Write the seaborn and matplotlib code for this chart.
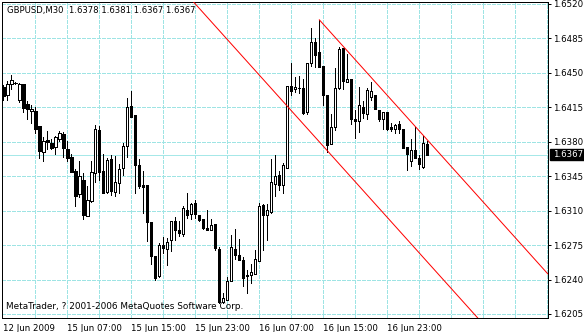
import matplotlib
matplotlib.use("Agg")
import matplotlib.pyplot as plt
import matplotlib.transforms as mtransforms
from matplotlib.patches import Rectangle
import numpy as np
import pandas as pd
import seaborn as sns

# ---------------- data ----------------
symbol_title = "GBPUSD,M30  1.6378 1.6381 1.6367 1.6367"
copyright_text = "MetaTrader, ? 2001-2006 MetaQuotes Software Corp."

opens = [1.6436, 1.6428, 1.6439, 1.6440, 1.6422, 1.6439, 1.6418, 1.6411, 1.6411, 1.6396,
         1.6370, 1.6382, 1.6379, 1.6375, 1.6383, 1.6388, 1.6373, 1.6364, 1.6350, 1.6327,
         1.6341, 1.6305, 1.6320, 1.6348, 1.6392, 1.6350, 1.6329, 1.6362, 1.6329, 1.6338,
         1.6353, 1.6376, 1.6416, 1.6407, 1.6356, 1.6336, 1.6336, 1.6298, 1.6264, 1.6244,
         1.6275, 1.6271, 1.6280, 1.6299, 1.6290, 1.6286, 1.6311, 1.6307, 1.6318, 1.6306,
         1.6302, 1.6292, 1.6290, 1.6296, 1.6271, 1.6217, 1.6219, 1.6239, 1.6271, 1.6265,
         1.6260, 1.6244, 1.6245, 1.6246, 1.6259, 1.6316, 1.6306, 1.6309, 1.6337, 1.6346,
         1.6336, 1.6353, 1.6437, 1.6434, 1.6435, 1.6435, 1.6410, 1.6460, 1.6481, 1.6471,
         1.6457, 1.6427, 1.6378, 1.6395, 1.6435, 1.6475, 1.6441, 1.6444, 1.6403, 1.6401,
         1.6415, 1.6408, 1.6425, 1.6427, 1.6412, 1.6403, 1.6410, 1.6395, 1.6393, 1.6398,
         1.6393, 1.6375, 1.6360, 1.6372, 1.6363, 1.6354, 1.6378]
highs = [1.6438, 1.6442, 1.6448, 1.6441, 1.6440, 1.6439, 1.6421, 1.6417, 1.6415, 1.6396,
         1.6385, 1.6391, 1.6383, 1.6386, 1.6391, 1.6390, 1.6381, 1.6368, 1.6352, 1.6360,
         1.6348, 1.6335, 1.6360, 1.6397, 1.6396, 1.6368, 1.6363, 1.6367, 1.6366, 1.6357,
         1.6379, 1.6424, 1.6432, 1.6407, 1.6362, 1.6350, 1.6336, 1.6298, 1.6264, 1.6277,
         1.6283, 1.6282, 1.6299, 1.6304, 1.6299, 1.6315, 1.6328, 1.6318, 1.6321, 1.6306,
         1.6302, 1.6311, 1.6302, 1.6296, 1.6273, 1.6226, 1.6243, 1.6285, 1.6291, 1.6281,
         1.6263, 1.6250, 1.6256, 1.6270, 1.6318, 1.6317, 1.6317, 1.6362, 1.6367, 1.6350,
         1.6358, 1.6437, 1.6460, 1.6446, 1.6447, 1.6444, 1.6460, 1.6496, 1.6485, 1.6504,
         1.6457, 1.6427, 1.6408, 1.6455, 1.6476, 1.6475, 1.6469, 1.6444, 1.6412, 1.6436,
         1.6421, 1.6435, 1.6441, 1.6427, 1.6412, 1.6410, 1.6410, 1.6399, 1.6398, 1.6401,
         1.6393, 1.6375, 1.6383, 1.6395, 1.6367, 1.6386, 1.6381]
lows = [1.6422, 1.6422, 1.6434, 1.6439, 1.6420, 1.6410, 1.6403, 1.6399, 1.6389, 1.6363,
        1.6360, 1.6373, 1.6373, 1.6368, 1.6381, 1.6365, 1.6360, 1.6349, 1.6315, 1.6324,
        1.6302, 1.6305, 1.6319, 1.6339, 1.6341, 1.6328, 1.6328, 1.6326, 1.6325, 1.6328,
        1.6346, 1.6365, 1.6405, 1.6328, 1.6333, 1.6308, 1.6279, 1.6256, 1.6240, 1.6243,
        1.6267, 1.6255, 1.6269, 1.6280, 1.6284, 1.6284, 1.6303, 1.6302, 1.6303, 1.6299,
        1.6291, 1.6290, 1.6290, 1.6270, 1.6216, 1.6216, 1.6219, 1.6238, 1.6261, 1.6260,
        1.6233, 1.6226, 1.6236, 1.6246, 1.6259, 1.6270, 1.6280, 1.6308, 1.6325, 1.6331,
        1.6328, 1.6353, 1.6428, 1.6431, 1.6430, 1.6408, 1.6408, 1.6457, 1.6456, 1.6456,
        1.6417, 1.6370, 1.6378, 1.6392, 1.6434, 1.6434, 1.6441, 1.6398, 1.6384, 1.6390,
        1.6404, 1.6403, 1.6422, 1.6413, 1.6401, 1.6393, 1.6392, 1.6391, 1.6389, 1.6389,
        1.6374, 1.6351, 1.6355, 1.6363, 1.6352, 1.6353, 1.6367]
closes = [1.6426, 1.6439, 1.6443, 1.6440, 1.6439, 1.6414, 1.6413, 1.6413, 1.6393, 1.6371,
          1.6381, 1.6380, 1.6374, 1.6385, 1.6389, 1.6374, 1.6363, 1.6349, 1.6325, 1.6345,
          1.6306, 1.6321, 1.6349, 1.6393, 1.6349, 1.6328, 1.6361, 1.6330, 1.6339, 1.6352,
          1.6376, 1.6415, 1.6405, 1.6356, 1.6335, 1.6334, 1.6298, 1.6264, 1.6242, 1.6275,
          1.6272, 1.6278, 1.6299, 1.6290, 1.6287, 1.6313, 1.6306, 1.6317, 1.6307, 1.6300,
          1.6292, 1.6290, 1.6295, 1.6272, 1.6217, 1.6221, 1.6238, 1.6273, 1.6265, 1.6260,
          1.6242, 1.6245, 1.6248, 1.6261, 1.6315, 1.6306, 1.6311, 1.6339, 1.6345, 1.6336,
          1.6356, 1.6437, 1.6432, 1.6436, 1.6435, 1.6409, 1.6460, 1.6481, 1.6468, 1.6456,
          1.6427, 1.6377, 1.6395, 1.6435, 1.6474, 1.6442, 1.6444, 1.6403, 1.6401, 1.6417,
          1.6409, 1.6433, 1.6432, 1.6413, 1.6403, 1.6410, 1.6393, 1.6393, 1.6397, 1.6393,
          1.6374, 1.6368, 1.6372, 1.6363, 1.6357, 1.6379, 1.6367]

time_label_bars = [0, 16, 32, 48, 64, 80, 96]
time_labels = ["12 Jun 2009", "15 Jun 07:00", "15 Jun 15:00", "15 Jun 23:00",
               "16 Jun 07:00", "16 Jun 15:00", "16 Jun 23:00"]
price_ticks = [1.6205, 1.6240, 1.6275, 1.6310, 1.6345, 1.6380, 1.6415, 1.6450, 1.6485, 1.6520]
current_price = 1.6367

# channel: upper trend line anchored on two highs, lower line parallel
upper_anchor_bars = [79, 106]
upper_anchor_prices = [1.6504, 1.6382]
channel_width = 0.0124

# ---------------- style ----------------
sns.set_style("white")
plt.rcParams["font.family"] = ["DejaVu Sans"]

W, H = 584, 332
fig = plt.figure(figsize=(W / 100, H / 100), dpi=100)
fig.patch.set_facecolor("white")
ax = fig.add_axes([2 / W, 1 - 318 / H, 546 / W, 316 / H])
ax.set_facecolor("white")

n = len(opens)
df = pd.DataFrame({"bar": np.arange(n), "open": opens, "high": highs,
                   "low": lows, "close": closes})

xmin, xmax = -0.33, 136.2
ymin, ymax = 1.62009, 1.65220
ax.set_xlim(xmin, xmax)
ax.set_ylim(ymin, ymax)

grid_col = "#9ee4e4"
px = 0.72  # one pixel in points
# grid
grid_bars = np.arange(8, 137, 8)
ax.vlines(grid_bars, ymin, ymax, colors=grid_col, linewidth=px,
          linestyles=(0, (4, 2)), zorder=0, antialiased=False)
ax.hlines(price_ticks, xmin, xmax, colors=grid_col, linewidth=px,
          linestyles=(0, (4, 2)), zorder=0, antialiased=False)
# current price line
ax.axhline(current_price, color="#a6e8e8", linewidth=px, zorder=1, antialiased=False)

# candles
ax.vlines(df["bar"], df["low"], df["high"], colors="black", linewidth=px,
          zorder=2, antialiased=False)
body_bottom = np.minimum(df["open"], df["close"])
body_height = np.abs(df["close"] - df["open"])
face = ["white" if c >= o else "black" for o, c in zip(df["open"], df["close"])]
ax.bar(df["bar"], body_height, bottom=body_bottom, width=0.6, color=face,
       edgecolor="black", linewidth=px, zorder=3, antialiased=False)

# channel lines
slope = (upper_anchor_prices[1] - upper_anchor_prices[0]) / (upper_anchor_bars[1] - upper_anchor_bars[0])
ux = np.array([upper_anchor_bars[0], xmax + 2])
uy = upper_anchor_prices[0] + slope * (ux - upper_anchor_bars[0])
lx = np.array([30, xmax + 2])
ly = upper_anchor_prices[0] - channel_width + slope * (lx - upper_anchor_bars[0])
chan = pd.DataFrame({"bar": np.concatenate([ux, lx]),
                     "price": np.concatenate([uy, ly]),
                     "line": ["upper", "upper", "lower", "lower"]})
sns.lineplot(data=chan, x="bar", y="price", units="line", estimator=None,
             color="#ff0000", lw=px, ax=ax, zorder=4, legend=False)
ax.set_xlim(xmin, xmax)
ax.set_ylim(ymin, ymax)

# spines
for s in ax.spines.values():
    s.set_visible(True)
    s.set_color("black")
    s.set_linewidth(px)

# ticks
ax.yaxis.tick_right()
ax.set_yticks(price_ticks)
ax.set_yticklabels([f"{p:.4f}" for p in price_ticks])
ax.set_xticks(time_label_bars)
ax.set_xticklabels(time_labels, ha="left")
ax.tick_params(axis="y", direction="out", length=2.3, width=px, pad=1.5,
               labelsize=6.2, colors="black")
ax.tick_params(axis="x", direction="out", length=3, width=px, pad=1.5,
               labelsize=6.2, colors="black")
ax.set_xlabel("")
ax.set_ylabel("")

# current price label box
trans = mtransforms.blended_transform_factory(ax.transAxes, ax.transData)
box_h = 0.00056
ax.add_patch(Rectangle((1.0045, current_price - box_h), 0.07, 2 * box_h,
                       transform=trans, facecolor="black", edgecolor="black",
                       clip_on=False, zorder=5))
ax.text(1.0095, current_price, f"{current_price:.4f}", transform=trans,
        ha="left", va="center", fontsize=6.2, color="white", zorder=6, clip_on=False)

# texts
fig.text(7 / W, 1 - 11 / H, symbol_title, ha="left", va="center", fontsize=6.1, color="black")
fig.text(6 / W, 1 - 306.5 / H, copyright_text, ha="left", va="center", fontsize=6.4, color="black")

fig.savefig("out.png", dpi=100)
